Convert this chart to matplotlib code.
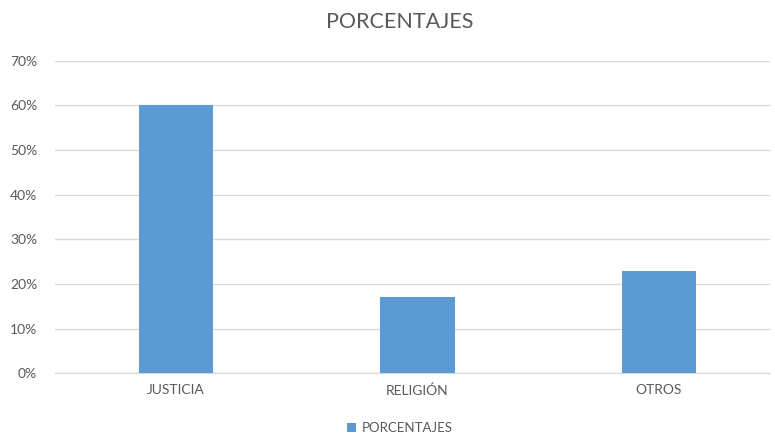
import matplotlib
matplotlib.use("Agg")
import matplotlib.pyplot as plt
from matplotlib.ticker import PercentFormatter, MultipleLocator

categories = ["JUSTICIA", "RELIGIÓN", "OTROS"]
values = [0.60, 0.17, 0.23]
series_name = "PORCENTAJES"
title = "PORCENTAJES"

plt.rcParams['font.family'] = ['Lato', 'DejaVu Sans']
txt = "#595959"

fig = plt.figure(figsize=(7.75, 4.38), dpi=100)
ax = fig.add_axes([0.0713, 0.148, 0.9223, 0.713])
x = range(len(categories))
ax.bar(x, values, width=0.31, color="#5b9bd5", label=series_name, zorder=3)
ax.set_xlim(-0.5, 2.46)
ax.set_ylim(0, 0.7)
ax.yaxis.set_major_locator(MultipleLocator(0.1))
ax.yaxis.set_major_formatter(PercentFormatter(1.0, decimals=0))
ax.set_xticks(list(x))
ax.set_xticklabels(categories)
ax.grid(axis="y", color="#d9d9d9", linewidth=1, zorder=0)
for s in ["top", "right", "left"]:
    ax.spines[s].set_visible(False)
ax.spines["bottom"].set_color("#d9d9d9")
ax.tick_params(axis="both", length=0, colors=txt, labelsize=10)
ax.tick_params(axis="y", pad=13)
ax.tick_params(axis="x", pad=8)
fig.text(0.516, 0.95, title, ha="center", va="center", fontsize=15.5, color=txt)
leg = fig.legend(loc="center", bbox_to_anchor=(0.516, 0.022), frameon=False,
                 fontsize=9.5, handlelength=0.7, handleheight=0.7, handletextpad=0.4)
for t in leg.get_texts():
    t.set_color(txt)
fig.savefig("out.png", dpi=100, facecolor="white")
